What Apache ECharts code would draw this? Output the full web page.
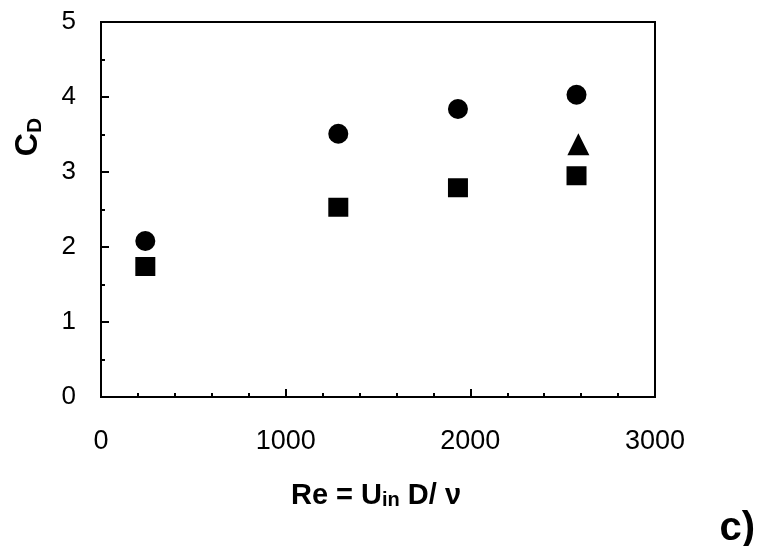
<!DOCTYPE html>
<html>
<head>
<meta charset="utf-8">
<script src="https://cdn.jsdelivr.net/npm/echarts@6/dist/echarts.min.js"></script>
<style>html,body{margin:0;padding:0;background:#fff;}#c{width:757px;height:546px;}</style>
</head>
<body>
<div id="c"></div>
<script>
const reValues = [240, 1285, 1933, 2575];
const cdCircle = [2.08, 3.51, 3.84, 4.03];
const cdSquare = [1.74, 2.53, 2.79, 2.95];
const reTriangle = [2585];
const cdTriangle = [3.37];
const xTicks = [0, 1000, 2000, 3000];
const yTicks = [0, 1, 2, 3, 4, 5];

const FONT = '"Liberation Sans", Arial, sans-serif';
const chart = echarts.init(document.getElementById('c'), null, {renderer: 'canvas'});
const pair = (xs, ys) => xs.map((x, i) => [x, ys[i]]);
const markStyle = {color: '#000', opacity: 1};

chart.setOption({
  animation: false,
  backgroundColor: '#fff',
  grid: {left: 101, right: 102, top: 22, bottom: 149, show: true, borderColor: '#000', borderWidth: 2, backgroundColor: 'transparent'},
  xAxis: {
    type: 'value', min: xTicks[0], max: xTicks[xTicks.length - 1], interval: 1000,
    axisLine: {show: true, onZero: false, lineStyle: {color: '#000', width: 2}},
    axisTick: {show: true, inside: true, length: 8, lineStyle: {color: '#000', width: 2}},
    minorTick: {show: true, splitNumber: 5, length: 4, lineStyle: {color: '#000', width: 2}},
    splitLine: {show: false},
    axisLabel: {color: '#000', fontSize: 27, fontFamily: FONT, margin: 31, formatter: v => String(v)}
  },
  yAxis: {
    type: 'value', min: yTicks[0], max: yTicks[yTicks.length - 1], interval: 1,
    axisLine: {show: true, onZero: false, lineStyle: {color: '#000', width: 2}},
    axisTick: {show: true, inside: true, length: 8, lineStyle: {color: '#000', width: 2}},
    minorTick: {show: true, splitNumber: 2, length: 4, lineStyle: {color: '#000', width: 2}},
    splitLine: {show: false},
    axisLabel: {color: '#000', fontSize: 26, fontFamily: FONT, margin: 25, formatter: v => String(v)}
  },
  series: [
    {type: 'scatter', symbol: 'circle', symbolSize: 20, itemStyle: markStyle, data: pair(reValues, cdCircle)},
    {type: 'scatter', symbol: 'rect', symbolSize: [20, 19], itemStyle: markStyle, data: pair(reValues, cdSquare)},
    {type: 'scatter', symbol: 'triangle', symbolSize: [22, 22], itemStyle: markStyle, data: pair(reTriangle, cdTriangle)}
  ],
  graphic: [
    {
      type: 'text', x: 27, y: 137, rotation: Math.PI / 2,
      style: {
        text: '{a|C}{b|D}', align: 'center', verticalAlign: 'middle', fill: '#000',
        rich: {
          a: {fontSize: 32, fontWeight: 'bold', fontFamily: FONT, fill: '#000', verticalAlign: 'bottom', lineHeight: 34},
          b: {fontSize: 21, fontWeight: 'bold', fontFamily: FONT, fill: '#000', verticalAlign: 'bottom', lineHeight: 34, padding: [0, 0, -2, 0]}
        }
      }
    },
    {
      type: 'text', x: 376, y: 494,
      style: {
        text: '{a|Re = U}{b|in}{a| D/ ν}', align: 'center', verticalAlign: 'middle', fill: '#000',
        rich: {
          a: {fontSize: 29, fontWeight: 'bold', fontFamily: FONT, fill: '#000', verticalAlign: 'bottom', lineHeight: 32},
          b: {fontSize: 20, fontWeight: 'bold', fontFamily: FONT, fill: '#000', verticalAlign: 'bottom', lineHeight: 16}
        }
      }
    },
    {
      type: 'text', x: 755, y: 529,
      style: {text: 'c)', align: 'right', verticalAlign: 'middle', fill: '#000', font: 'bold 40px "Liberation Sans", Arial, sans-serif'}
    }
  ]
});
</script>
</body>
</html>
